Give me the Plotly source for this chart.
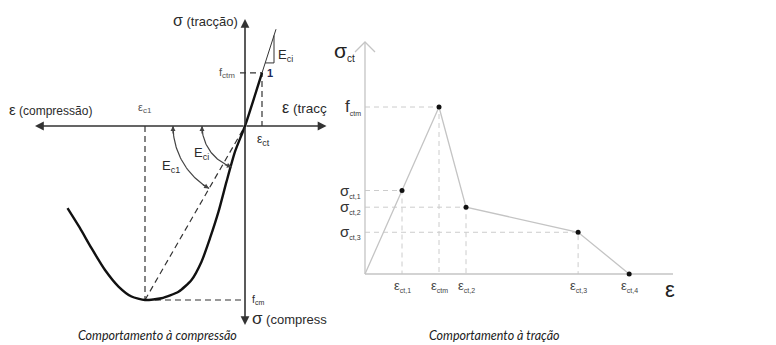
import numpy as np
import plotly.graph_objects as go

# ---------------- data ----------------
# Left panel: schematic stress-strain curve in compression (strain, stress)
comp_strain = [-3.55, -3.30, -3.07, -2.80, -2.53, -2.27, -2.00, -1.67, -1.33,
               -1.07, -0.87, -0.70, -0.53, -0.37, -0.20, 0.00, 0.34]
comp_stress = [-18.9, -23.5, -28.1, -33.1, -36.9, -39.2, -40.0, -39.6, -38.1,
               -35.4, -31.2, -25.8, -19.7, -12.8, -5.9, 0.0, 12.2]
eps_c1 = -2.00
f_cm = -40.0
eps_ct = 0.34
f_ctm_left = 12.2
tangent_strain_end = 0.62

# Right panel: multilinear tension model
ten_strain = [0.0, 1.00, 2.00, 2.73, 5.76, 7.14]
ten_stress = [0.0, 0.50, 1.00, 0.40, 0.25, 0.0]
ten_strain_labels = [("ε", "ct,1"), ("ε", "ctm"), ("ε", "ct,2"), ("ε", "ct,3"), ("ε", "ct,4")]
ten_stress_labels = [("σ", "ct,1"), ("f", "ctm"), ("σ", "ct,2"), ("σ", "ct,3"), None]

# ---------------- layout constants ----------------
W, H = 776, 345
FONT = "Liberation Sans, Arial, sans-serif"
DARK = "#2b2b2b"
LSX, LSY = 50.0, 4.35
L_X0, L_Y0 = 245, 126
L_RIGHT = 327
RSX, RSY = 37.0, 167.0
R_X0, R_Y0 = 365, 274
R_LEFT = 328

lx_range = [(0 - L_X0) / LSX, (L_RIGHT - L_X0) / LSX]
ly_range = [(L_Y0 - H) / LSY, L_Y0 / LSY]
rx_range = [(R_LEFT - R_X0) / RSX, (W - R_X0) / RSX]
ry_range = [(R_Y0 - H) / RSY, R_Y0 / RSY]


def lab(main, sub, sub_px):
    return f"{main}<sub><span style='font-size:{sub_px}px'>{sub}</span></sub>"


fig = go.Figure()

# ===== LEFT PANEL =====
dash_l = dict(color="#333333", width=1.2, dash="6px,4px")
fig.add_trace(go.Scatter(x=[eps_c1, 0], y=[f_cm, 0], mode="lines", line=dash_l,
                         xaxis="x", yaxis="y"))
fig.add_trace(go.Scatter(x=[eps_c1, eps_c1, None, eps_c1, 0],
                         y=[0, f_cm, None, f_cm, f_cm], mode="lines", line=dash_l,
                         xaxis="x", yaxis="y"))
fig.add_trace(go.Scatter(x=[-0.1, eps_ct, eps_ct], y=[f_ctm_left, f_ctm_left, 0],
                         mode="lines", line=dash_l, xaxis="x", yaxis="y"))
slope = f_ctm_left / eps_ct
tri_y = f_ctm_left + 2.3
tri_x0 = tri_y / slope
tri_x1 = tangent_strain_end - 0.04
fig.add_trace(go.Scatter(x=[eps_ct, tangent_strain_end], y=[f_ctm_left, slope * tangent_strain_end],
                         mode="lines", line=dict(color="#333333", width=1),
                         xaxis="x", yaxis="y"))
fig.add_trace(go.Scatter(x=[tri_x0, tri_x1, tri_x1], y=[tri_y, tri_y, slope * tri_x1],
                         mode="lines", line=dict(color="#333333", width=1),
                         xaxis="x", yaxis="y"))
fig.add_trace(go.Scatter(x=comp_strain, y=comp_stress, mode="lines",
                         line=dict(color="#111111", width=2.4, shape="spline", smoothing=0.6),
                         xaxis="x", yaxis="y"))

sec_ang = np.arctan2(f_cm * LSY, eps_c1 * LSX) % (2 * np.pi)
tan_ang = np.arctan2(-f_ctm_left * LSY, -eps_ct * LSX) % (2 * np.pi)
arc_annots = []
for r, a1 in [(72, sec_ang), (43, tan_ang)]:
    t = np.linspace(np.pi, a1, 40)
    fig.add_trace(go.Scatter(x=r * np.cos(t) / LSX, y=r * np.sin(t) / LSY, mode="lines",
                             line=dict(color="#444444", width=1.2), xaxis="x", yaxis="y"))
    arc_annots.append(dict(x=-r / LSX, y=0, ax=0, ay=9, xref="x", yref="y",
                           showarrow=True, arrowhead=2, arrowsize=0.9, arrowwidth=1.1,
                           arrowcolor="#444444", text=""))
    arc_annots.append(dict(x=r * np.cos(a1) / LSX, y=r * np.sin(a1) / LSY,
                           ax=9 * np.sin(a1), ay=9 * np.cos(a1), xref="x", yref="y",
                           showarrow=True, arrowhead=2, arrowsize=0.9, arrowwidth=1.1,
                           arrowcolor="#444444", text=""))

# axis captions that run past the panel edge (clipped as in the reference)
fig.add_trace(go.Scatter(x=[(282 - L_X0) / LSX], y=[(L_Y0 - 110) / LSY], mode="text",
                         text=["<span style='font-size:16px'>ε</span> (tracção)"],
                         textposition="middle right", cliponaxis=True,
                         textfont=dict(family=FONT, size=13.5, color=DARK),
                         xaxis="x", yaxis="y"))
fig.add_trace(go.Scatter(x=[(252 - L_X0) / LSX], y=[(L_Y0 - 321) / LSY], mode="text",
                         text=["<span style='font-size:17px'>σ</span> (compressão)"],
                         textposition="middle right", cliponaxis=True,
                         textfont=dict(family=FONT, size=13, color=DARK),
                         xaxis="x", yaxis="y"))

# ===== RIGHT PANEL =====
GREY = "#c4c4c4"
dash_r = dict(color="#cccccc", width=1, dash="5px,4px")
dx, dy = [], []
for e, s in zip(ten_strain[1:5], ten_stress[1:5]):
    dx += [0, e, e, None]
    dy += [s, s, 0, None]
fig.add_trace(go.Scatter(x=dx, y=dy, mode="lines", line=dash_r, xaxis="x2", yaxis="y2"))
y_top = (R_Y0 - 42) / RSY
x_end = (673 - R_X0) / RSX
ch_dx, ch_dy = 10 / RSX, 10 / RSY
fig.add_trace(go.Scatter(x=[0, 0, None, x_end, 0, None, -ch_dx, 0, ch_dx],
                         y=[0, y_top, None, 0, 0, None, y_top - ch_dy, y_top, y_top - ch_dy],
                         mode="lines", line=dict(color=GREY, width=1.3),
                         xaxis="x2", yaxis="y2"))
fig.add_trace(go.Scatter(x=ten_strain, y=ten_stress, mode="lines",
                         line=dict(color=GREY, width=1.3), xaxis="x2", yaxis="y2"))
fig.add_trace(go.Scatter(x=ten_strain[1:], y=ten_stress[1:], mode="markers",
                         marker=dict(color="#111111", size=5), xaxis="x2", yaxis="y2"))

# ---------------- annotations ----------------
def paper(px, py):
    return px / W, 1 - py / H


ann = []
axis_arrow = dict(showarrow=True, arrowhead=2, arrowsize=1.1, arrowwidth=1.6,
                  arrowcolor="#333333", text="", xref="x", yref="y", axref="x", ayref="y",
                  standoff=0, startstandoff=0)
for tip in [((35 - L_X0) / LSX, 0), ((326.5 - L_X0) / LSX, 0),
            (0, (L_Y0 - 19) / LSY), (0, (L_Y0 - 325) / LSY)]:
    a = dict(axis_arrow)
    a.update(x=tip[0], y=tip[1], ax=0, ay=0)
    ann.append(a)
ann += arc_annots


def txt(text, px, py, xanchor="center", size=12, color=DARK, italic=False, family=FONT):
    x, y = paper(px, py)
    return dict(text=text, x=x, y=y, xref="paper", yref="paper", xanchor=xanchor,
                yanchor="middle", showarrow=False,
                font=dict(family=family, size=size, color=color,
                          style="italic" if italic else "normal"))


ann.append(txt("<span style='font-size:16px'>σ</span> (tracção)", 240, 20, "right", 13))
ann.append(txt("<span style='font-size:15px'>ε</span> (compressão)", 7, 110, "left"))
ann.append(dict(text=lab("ε", "c1", 8), x=eps_c1, y=0, xref="x", yref="y", yanchor="bottom",
                yshift=9, showarrow=False, font=dict(family=FONT, size=11, color="#555555")))
ann.append(dict(text=lab("ε", "ct", 9), x=eps_ct, y=0, xref="x", yref="y", yanchor="top",
                xshift=1, yshift=-4, showarrow=False, font=dict(family=FONT, size=12, color=DARK)))
ann.append(dict(text=lab("f", "ctm", 8), x=0, y=f_ctm_left, xref="x", yref="y", xanchor="right",
                xshift=-8, showarrow=False, font=dict(family=FONT, size=11, color="#555555")))
ann.append(dict(text="<b>1</b>", x=eps_ct, y=f_ctm_left, xref="x", yref="y", xanchor="left",
                xshift=3, showarrow=False, font=dict(family=FONT, size=11, color="#1f2a5a")))
ann.append(dict(text=lab("f", "cm", 7), x=0, y=f_cm, xref="x", yref="y", xanchor="left",
                xshift=5, yshift=1, showarrow=False, font=dict(family=FONT, size=10.5, color=DARK)))
ann.append(txt(lab("E", "ci", 9), 285, 55, "center", 13))
ann.append(txt(lab("E", "ci", 9), 201, 153, "center", 13))
ann.append(txt(lab("E", "c1", 9), 171, 166, "center", 13))
ann.append(txt("Comportamento à compressão", 157, 335, "center", 12.5, "#222222", True,
               "Lato, Open Sans, sans-serif"))

# right panel text
ann.append(txt(lab("σ", "ct", 10), 332, 52, "left", 21, "#222222"))
for s, l in zip(ten_stress[1:], ten_stress_labels):
    if l is None:
        continue
    big = 17 if l[0] == "f" else 15
    ann.append(dict(text=lab(l[0], l[1], 7), x=0, y=s, xref="x2", yref="y2", xanchor="right",
                    xshift=-2, showarrow=False, font=dict(family=FONT, size=big, color="#333333")))
for e, l in zip(ten_strain[1:], ten_strain_labels):
    ann.append(dict(text=lab(l[0], l[1], 7), x=e, y=0, xref="x2", yref="y2", yanchor="top",
                    yshift=-2, showarrow=False, font=dict(family=FONT, size=13, color="#444444")))
ann.append(txt("ε", 670, 289, "center", 22, "#222222"))
ann.append(txt("Comportamento à tração", 495, 335, "center", 12.5, "#222222", True,
               "Lato, Open Sans, sans-serif"))

ax_hidden = dict(visible=False, fixedrange=True)
fig.update_layout(
    width=W, height=H, margin=dict(l=0, r=0, t=0, b=0),
    paper_bgcolor="white", plot_bgcolor="white", showlegend=False,
    xaxis=dict(ax_hidden, domain=[0, L_RIGHT / W], range=lx_range),
    yaxis=dict(ax_hidden, domain=[0, 1], range=ly_range),
    xaxis2=dict(ax_hidden, domain=[R_LEFT / W, 1], range=rx_range),
    yaxis2=dict(ax_hidden, domain=[0, 1], range=ry_range),
    annotations=ann,
)
fig.write_html("out.html", config={"displayModeBar": False},
               post_script="document.body.style.margin='0';document.body.style.overflow='hidden';")
